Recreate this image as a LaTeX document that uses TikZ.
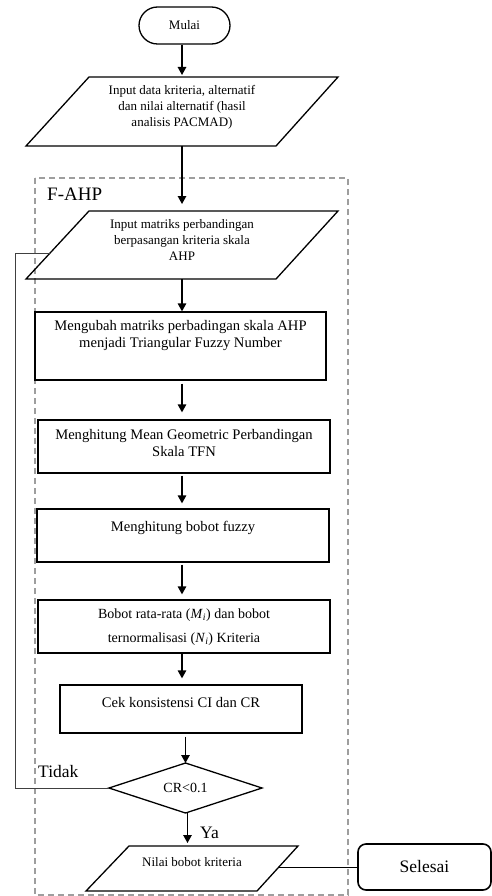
\documentclass[tikz,border=0pt]{standalone}
\usepackage{fontspec}
\setmainfont{Liberation Serif}
\usetikzlibrary{arrows.meta}
\begin{document}
\begin{tikzpicture}[x=1pt,y=-1pt,
  shp/.style={draw=black,line width=1.3pt,line join=miter},
  frame/.style={inner sep=0pt,outer sep=0pt},
  arr/.style={line width=1.3pt,-{Triangle[length=8pt,width=8.5pt]}},
  ptext/.style={align=center,inner sep=0pt,font=\fontsize{13}{16}\selectfont},
  btext/.style={align=center,inner sep=0pt,font=\fontsize{14.6}{17.5}\selectfont},
  bigtext/.style={inner sep=0pt,font=\fontsize{17.5}{20}\selectfont},
  loopline/.style={draw=black!75,line width=1pt},
  group/.style={draw=black!38,line width=1.3pt,dash pattern=on 6pt off 4pt}]
\useasboundingbox (0,0) rectangle (492,896);

% group frame
\draw[group] (35,178) rectangle (348,895);
\node[bigtext,anchor=west,font=\fontsize{19}{22}\selectfont] (fahp) at (47,194) {F-AHP};

% start
\node[shp,minimum width=91pt,minimum height=37pt,rounded corners=18.5pt,inner sep=0pt,font=\fontsize{13}{16}\selectfont] (mulai) at (184.5,25.5) {Mulai};

% parallelogram 1
\node[frame,minimum width=312pt,minimum height=69pt] (p1) at (182,111.5) {};
\draw[shp] ([xshift=63pt]p1.north west) -- (p1.north east) -- ([xshift=-62pt]p1.south east) -- (p1.south west) -- cycle;
\node[ptext] (t1) at (182,107) {Input data kriteria, alternatif\\dan nilai alternatif (hasil\\analisis PACMAD)};

% parallelogram 2
\node[frame,minimum width=312pt,minimum height=68pt] (p2) at (182,245) {};
\draw[shp] ([xshift=63pt]p2.north west) -- (p2.north east) -- ([xshift=-62pt]p2.south east) -- (p2.south west) -- cycle;
\node[ptext] (t2) at (182,240) {Input matriks perbandingan\\berpasangan kriteria skala\\AHP};

% boxes
\node[shp,minimum width=291pt,minimum height=68pt] (b3) at (180.5,346) {};
\node[btext] (t3) at (180.5,335.5) {Mengubah matriks perbadingan skala AHP\\menjadi Triangular Fuzzy Number};

\node[shp,minimum width=292pt,minimum height=53pt] (b4) at (184,446.5) {};
\node[btext] (t4) at (184,443) {Menghitung Mean Geometric Perbandingan\\Skala TFN};

\node[shp,minimum width=292pt,minimum height=53pt] (b5) at (183,535.5) {};
\node[btext] (t5) at (183,528) {Menghitung bobot fuzzy};

\node[shp,minimum width=292pt,minimum height=53pt] (b6) at (184,626.5) {};
\node[align=center,inner sep=0pt,font=\fontsize{14}{24}\selectfont] (t6) at (184,627) {Bobot rata-rata (\textit{M}\textsubscript{\textit{i}}) dan bobot\\ternormalisasi (\textit{N}\textsubscript{\textit{i}}) Kriteria};

\node[shp,minimum width=242pt,minimum height=48pt] (b7) at (181,709) {};
\node[btext] (t7) at (181,702) {Cek konsistensi CI dan CR};

% decision
\node[frame,minimum width=153pt,minimum height=50pt,font=\fontsize{14}{16}\selectfont] (dia) at (185.5,788) {CR<0.1};
\draw[shp] (dia.north) -- (dia.east) -- (dia.south) -- (dia.west) -- cycle;

% parallelogram 3
\node[frame,minimum width=212pt,minimum height=45pt] (p3) at (192,868.5) {};
\draw[shp] ([xshift=43pt]p3.north west) -- (p3.north east) -- ([xshift=-41pt]p3.south east) -- (p3.south west) -- cycle;
\node[ptext] (t8) at (192,862) {Nilai bobot kriteria};

% end
\node[draw=black,line width=1.6pt,minimum width=133pt,minimum height=46pt,rounded corners=8pt,inner sep=0pt,font=\fontsize{17.5}{20}\selectfont] (sel) at (424.5,867) {Selesai};

% labels
\node[bigtext,anchor=west] (tidak) at (38,772) {Tidak};
\node[bigtext,anchor=west] (ya) at (200,833) {Ya};

% arrows
\draw[arr,shorten >=2pt] (mulai.south -| p1.north) -- (p1.north);
\draw[arr,shorten >=7pt] (p1.south) -- (p2.north);
\draw[arr] (p2.south) -- (b3.north -| p2.south);
\draw[arr,shorten <=3pt,shorten >=7pt] (b3.south -| p2.south) -- (b4.north -| p2.south);
\draw[arr,shorten <=2pt,shorten >=5pt] (b4.south -| p2.south) -- (b5.north -| p2.south);
\draw[arr,shorten <=2pt,shorten >=5pt] (b5.south -| p2.south) -- (b6.north -| p2.south);
\draw[arr,shorten >=6pt] (b6.south -| p2.south) -- (b7.north -| p2.south);
\draw[arr,shorten <=3pt] (b7.south -| dia.north) -- (dia.north);
\draw[arr,shorten >=3pt] ([xshift=2pt]dia.south) -- ([xshift=2pt]dia.south |- p3.north);

% loop back
\coordinate (lc) at (15,253);
\coordinate (lp) at (50,253);
\draw[loopline] (dia.west) -| (lc) -- (lp);

% to end
\coordinate (p3r) at (279,867);
\draw[line width=1pt] (p3r) -- (sel.west);
\end{tikzpicture}
\end{document}
